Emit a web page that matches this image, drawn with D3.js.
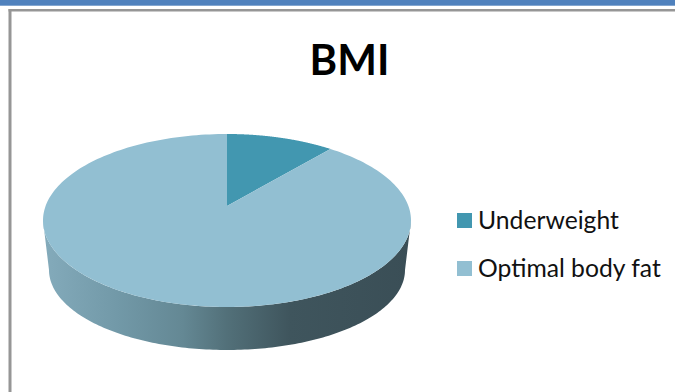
<!DOCTYPE html>
<html><head><meta charset="utf-8">
<script src="https://cdn.jsdelivr.net/npm/d3@7"></script>
<style>html,body{margin:0;padding:0;background:#fff}svg{display:block}</style>
</head><body><svg id="c" width="675" height="392"></svg>
<script>
const title = "BMI";
const categories = ["Underweight", "Optimal body fat"];
const values = [9.5, 90.5];
const colors = ["#4297b0", "#92bfd2"];

const svg = d3.select("#c");
svg.append("rect").attr("width",675).attr("height",392).attr("fill","#fff");
svg.append("rect").attr("x",0).attr("y",0).attr("width",675).attr("height",5.7).attr("fill","#4f81bd");
svg.append("rect").attr("x",8.5).attr("y",9).attr("width",666.5).attr("height",2.5).attr("fill","#969696");
svg.append("rect").attr("x",8.5).attr("y",9).attr("width",3).attr("height",383).attr("fill","#969696");

const top3d = {cx:227, cy:220.5, rx:184, ry:86.5, apexY:206};
const bot3d = {cx:227, cy:270, rx:178, ry:80};
const pt = (e,a)=>[e.cx+e.rx*Math.sin(a), e.cy-e.ry*Math.cos(a)];
const line = d3.line();
const arcPts = (e,a0,a1,n=160)=>d3.range(n+1).map(i=>pt(e,a0+(a1-a0)*i/n));

const defs = svg.append("defs");
const g = defs.append("linearGradient").attr("id","side").attr("gradientUnits","userSpaceOnUse")
  .attr("x1",43).attr("x2",411).attr("y1",0).attr("y2",0);
[[0,"#84abbb"],[0.2,"#7299a8"],[0.38,"#648894"],[0.5,"#527079"],[0.67,"#3f555d"],[1,"#3a4e56"]]
  .forEach(([o,c])=>g.append("stop").attr("offset",o).attr("stop-color",c));

const P = Math.PI;
const sidePts = arcPts(top3d,P/2,3*P/2).concat(arcPts(bot3d,3*P/2,P/2));
svg.append("path").attr("d",line(sidePts)+"Z").attr("fill","url(#side)");

const pie = d3.pie().sort(null)(values);
const apex = [top3d.cx, top3d.apexY];
svg.selectAll("path.slice").data(pie).join("path").attr("class","slice")
  .attr("fill",(d,i)=>colors[i])
  .attr("d",d=>line([apex].concat(arcPts(top3d,d.startAngle,d.endAngle,240)))+"Z");

svg.append("text").text(title).attr("x",349.5).attr("y",75).attr("text-anchor","middle")
  .attr("font-family","Lato, sans-serif").attr("font-weight",700).attr("font-size",42).attr("fill","#000");

const ly = d3.scalePoint().domain(categories).range([220.5,268.5]);
const lg = svg.selectAll("g.leg").data(categories).join("g").attr("class","leg");
lg.append("rect").attr("x",457).attr("y",d=>ly(d)-7.5).attr("width",15).attr("height",15)
  .attr("fill",(d,i)=>colors[i]);
lg.append("text").text(d=>d).attr("x",478).attr("y",d=>ly(d)+8)
  .attr("font-family","Lato, sans-serif").attr("font-size",24.7).attr("fill","#111");
</script></body></html>
